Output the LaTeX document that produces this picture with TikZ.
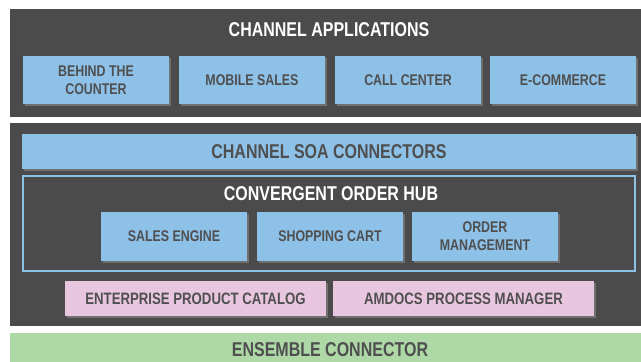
\documentclass[tikz,border=0pt]{standalone}
\usepackage{fontspec}
\setmainfont[FakeStretch=0.8]{Liberation Sans}
\usetikzlibrary{shadows}

\definecolor{panelgray}{HTML}{4B4B4B}
\definecolor{appblue}{HTML}{8EC1E8}
\definecolor{catpink}{HTML}{E8C6E0}
\definecolor{busgreen}{HTML}{AED8A6}
\definecolor{labelgray}{HTML}{4F4F4F}

\begin{document}
\begin{tikzpicture}[x=1pt,y=-1pt]
\tikzstyle{panel}=[rectangle,fill=panelgray,inner sep=0pt]
\tikzstyle{title}=[text=white,inner sep=0pt,font=\fontsize{20}{22}\selectfont\bfseries]
\tikzstyle{app}=[rectangle,fill=appblue,text=labelgray,minimum width=146pt,minimum height=48pt,inner sep=0pt,align=center,font=\fontsize{15.5}{17.7}\selectfont\bfseries,drop shadow={shadow xshift=1.5pt,shadow yshift=-1.5pt,opacity=0.7}]
\tikzstyle{bar}=[app,minimum width=614pt,minimum height=35pt,font=\fontsize{20}{22}\selectfont\bfseries]
\tikzstyle{cat}=[app,fill=catpink,minimum width=261pt,minimum height=35pt,font=\fontsize{16.5}{18}\selectfont\bfseries]

\fill[white] (0,0) rectangle (641,362);
\useasboundingbox (0,0) rectangle (641,362);

% channel applications
\node[panel,minimum width=631pt,minimum height=108pt] (apps) at (325.5,63) {};
\node[title] (appstitle) at (329,30) {CHANNEL APPLICATIONS};
\node[app] (counter) at (96,80) {BEHIND THE\\COUNTER};
\node[app] (mobile) at (252,80) {MOBILE SALES};
\node[app] (callcenter) at (408,80) {CALL CENTER};
\node[app] (ecommerce) at (563,80) {E-COMMERCE};

% order hub
\node[panel,minimum width=631pt,minimum height=203pt] (core) at (325.5,224.5) {};
\node[bar] (soa) at (329,151.5) {CHANNEL SOA CONNECTORS};
\node[draw=appblue,line width=1.5pt,minimum width=612pt,minimum height=95pt] (hub) at (329,223.5) {};
\node[title] (hubtitle) at (331,194) {CONVERGENT ORDER HUB};
\node[app,minimum height=49pt] (engine) at (174,236.5) {SALES ENGINE};
\node[app,minimum height=49pt] (cart) at (330,236.5) {SHOPPING CART};
\node[app,minimum height=49pt] (ordermgmt) at (485,236.5) {ORDER\\MANAGEMENT};
\node[cat] (catalog) at (195.5,298.5) {ENTERPRISE PRODUCT CATALOG};
\node[cat] (process) at (463.5,298.5) {AMDOCS PROCESS MANAGER};

% bus
\node[panel,fill=busgreen,minimum width=631pt,minimum height=29pt] (ensemble) at (325.5,347.5) {};
\node[title,text=labelgray] (ensembletitle) at (330,349.5) {ENSEMBLE CONNECTOR};
\end{tikzpicture}
\end{document}
